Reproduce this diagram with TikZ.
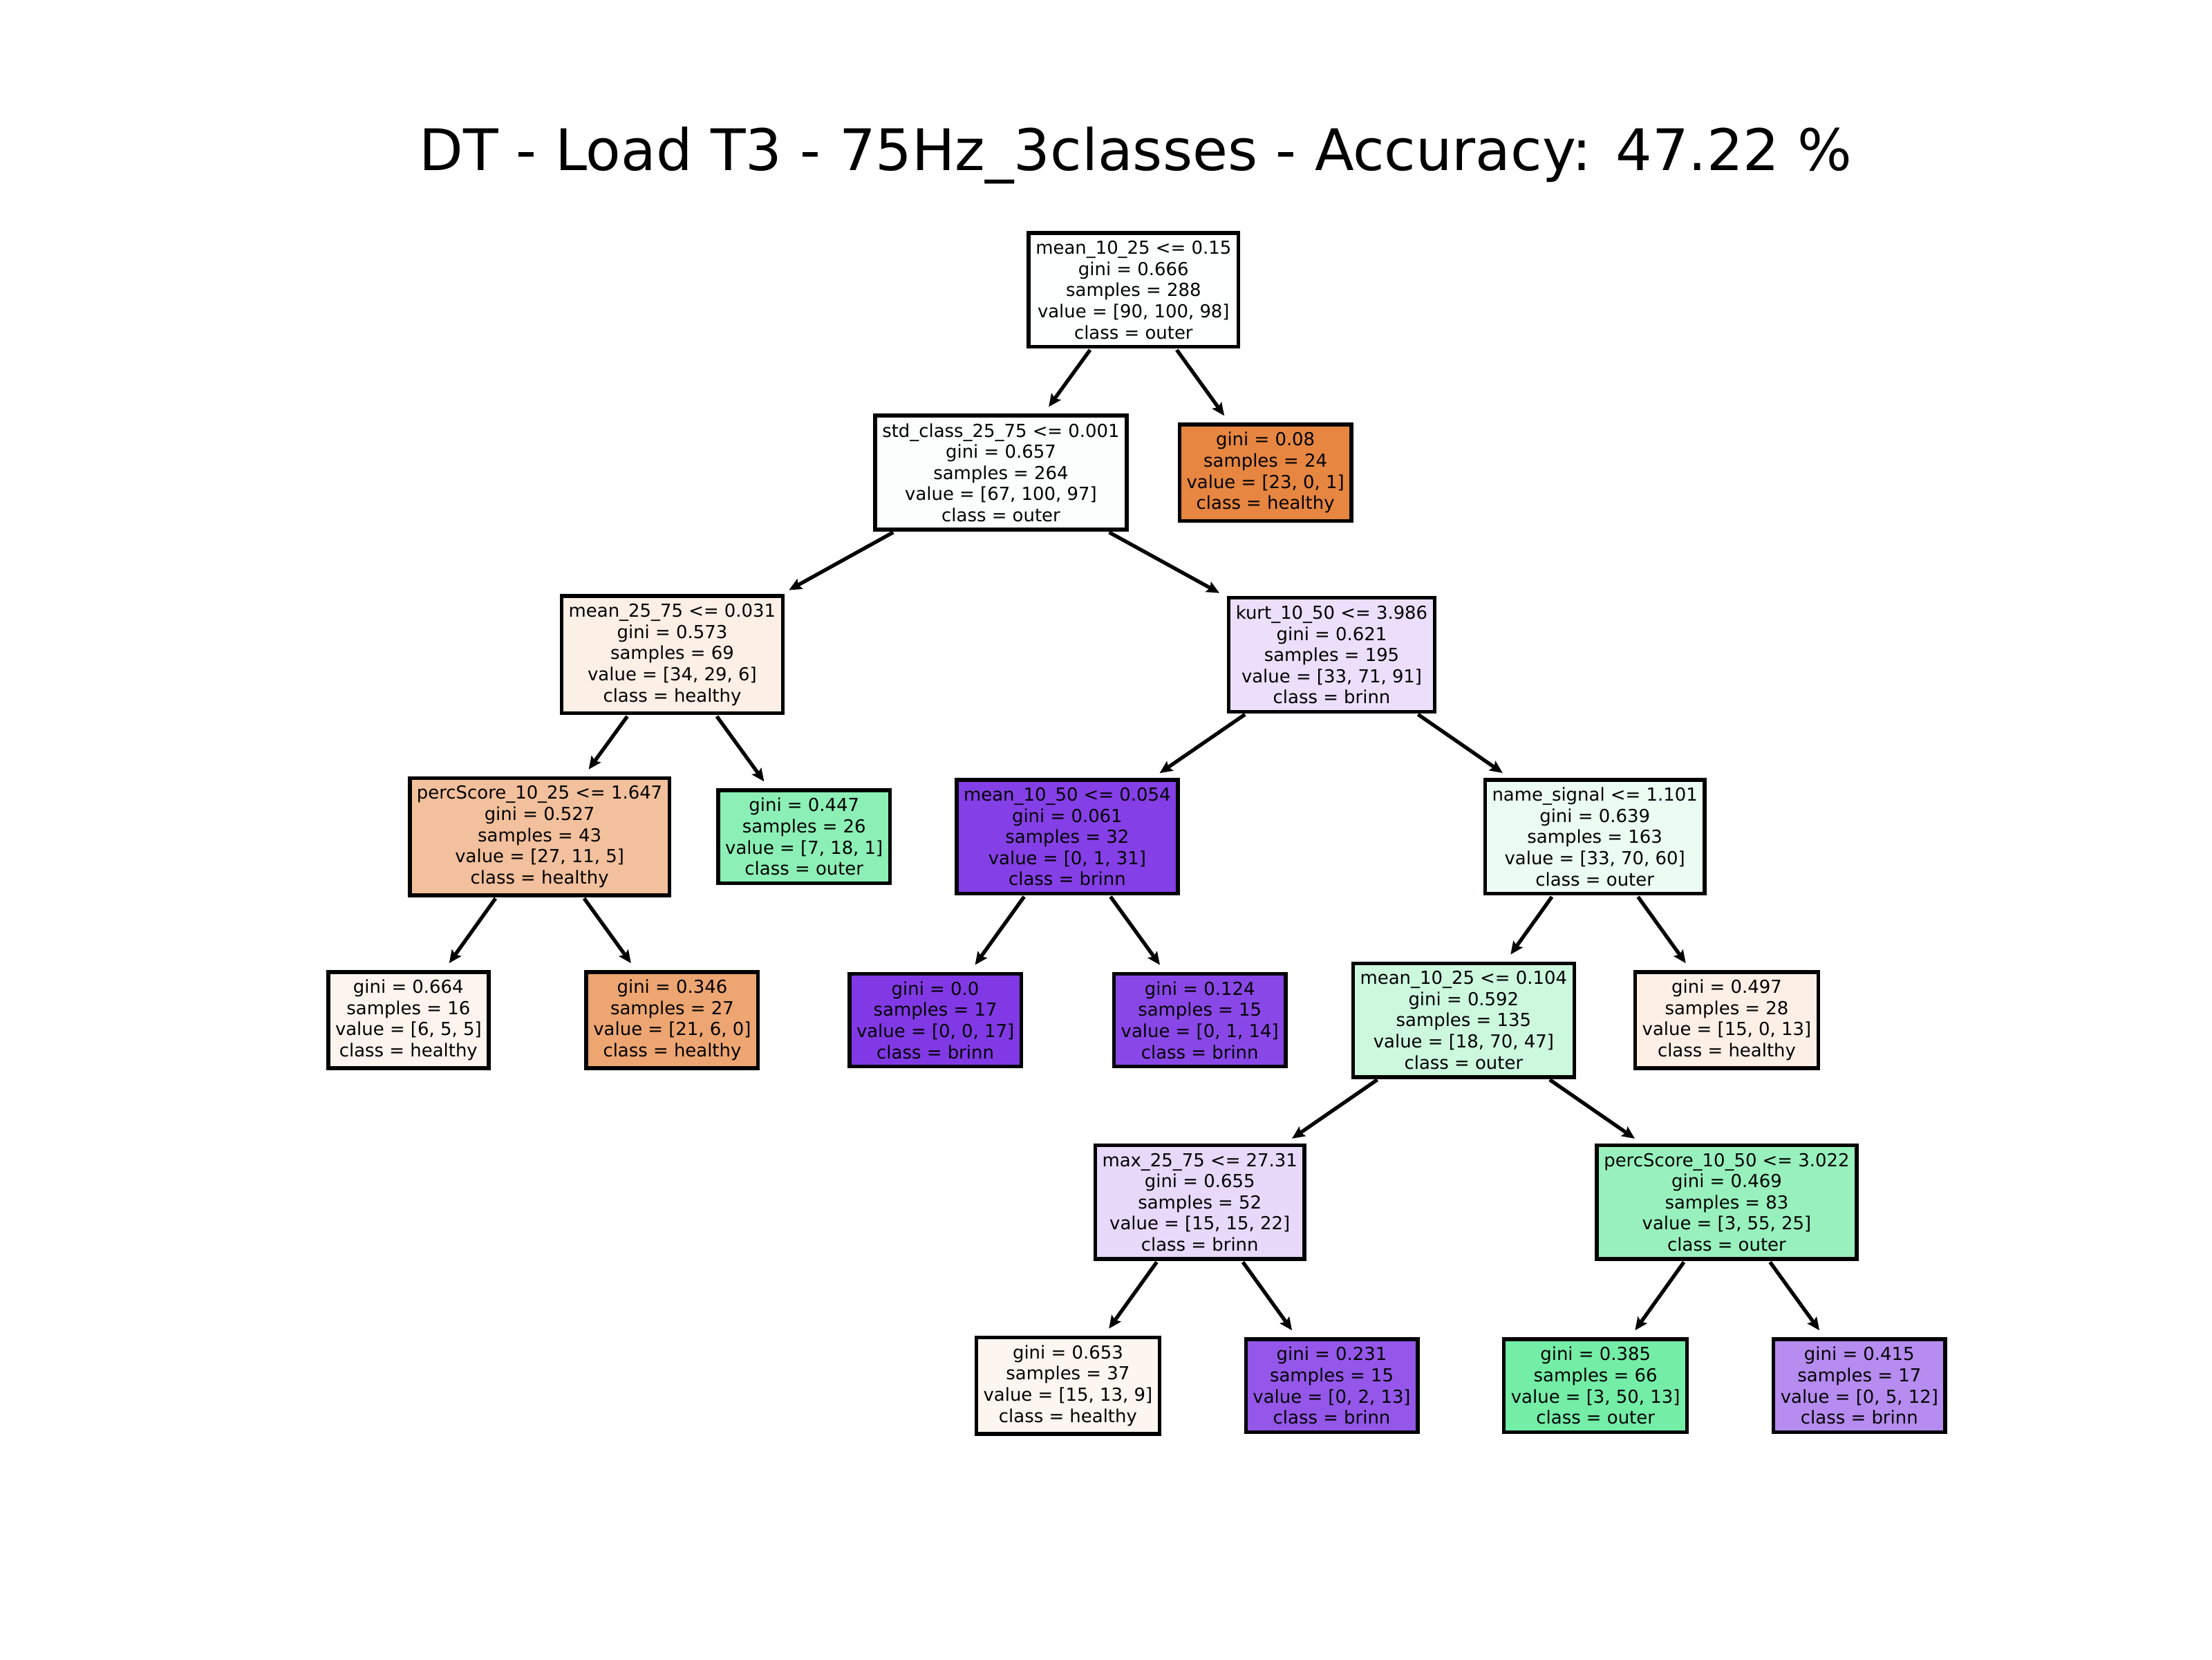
\documentclass[tikz,border=0pt]{standalone}
\usepackage{fontspec}
\setmainfont{DejaVu Sans}
\usetikzlibrary{arrows.meta}
\definecolor{hcol}{RGB}{229,129,57}
\definecolor{ocol}{RGB}{57,229,129}
\definecolor{bcol}{RGB}{129,57,229}
\tikzset{
  tnode/.style={draw=black, line width=2.7pt, inner xsep=5pt, inner ysep=5.5pt, align=center,
    font=\fontsize{12.7}{15}\selectfont},
  edge/.style={line width=2.6pt, -{Stealth[length=9pt,width=8pt,inset=1.5pt]},
    shorten >=6pt, shorten <=1pt}
}
\begin{document}
\begin{tikzpicture}[x=1pt,y=-1pt]
\useasboundingbox (0,0) rectangle (1568,1176);
\node[anchor=base, font=\fontsize{40.6}{48}\selectfont] (title) at (805,121) {DT - Load T3 - 75Hz\_3classes - Accuracy: 47.22 \%};

\node[tnode, fill=ocol!1!white] (n1) at (803.5,205.5) {mean\_10\_25 <= 0.15\\gini = 0.666\\samples = 288\\value = [90, 100, 98]\\class = outer};
\node[tnode, fill=ocol!2!white] (n2) at (709.5,335) {std\_class\_25\_75 <= 0.001\\gini = 0.657\\samples = 264\\value = [67, 100, 97]\\class = outer};
\node[tnode, fill=hcol!96!white] (n3) at (897,335) {gini = 0.08\\samples = 24\\value = [23, 0, 1]\\class = healthy};
\node[tnode, fill=hcol!12.5!white] (n4) at (476.5,464) {mean\_25\_75 <= 0.031\\gini = 0.573\\samples = 69\\value = [34, 29, 6]\\class = healthy};
\node[tnode, fill=bcol!16!white] (n5) at (944,464) {kurt\_10\_50 <= 3.986\\gini = 0.621\\samples = 195\\value = [33, 71, 91]\\class = brinn};
\node[tnode, fill=hcol!50!white] (n6) at (382.5,593) {percScore\_10\_25 <= 1.647\\gini = 0.527\\samples = 43\\value = [27, 11, 5]\\class = healthy};
\node[tnode, fill=ocol!58!white] (n7) at (570,593) {gini = 0.447\\samples = 26\\value = [7, 18, 1]\\class = outer};
\node[tnode, fill=bcol!97!white] (n8) at (756.5,593) {mean\_10\_50 <= 0.054\\gini = 0.061\\samples = 32\\value = [0, 1, 31]\\class = brinn};
\node[tnode, fill=ocol!10!white] (n9) at (1130.5,593) {name\_signal <= 1.101\\gini = 0.639\\samples = 163\\value = [33, 70, 60]\\class = outer};
\node[tnode, fill=hcol!9!white] (n10) at (289.5,723) {gini = 0.664\\samples = 16\\value = [6, 5, 5]\\class = healthy};
\node[tnode, fill=hcol!71!white] (n11) at (476.5,723) {gini = 0.346\\samples = 27\\value = [21, 6, 0]\\class = healthy};
\node[tnode, fill=bcol] (n12) at (663,723) {gini = 0.0\\samples = 17\\value = [0, 0, 17]\\class = brinn};
\node[tnode, fill=bcol!93!white] (n13) at (850.5,723) {gini = 0.124\\samples = 15\\value = [0, 1, 14]\\class = brinn};
\node[tnode, fill=ocol!26!white] (n14) at (1037.5,723) {mean\_10\_25 <= 0.104\\gini = 0.592\\samples = 135\\value = [18, 70, 47]\\class = outer};
\node[tnode, fill=hcol!13!white] (n15) at (1224,723) {gini = 0.497\\samples = 28\\value = [15, 0, 13]\\class = healthy};
\node[tnode, fill=bcol!19!white] (n16) at (850.5,852) {max\_25\_75 <= 27.31\\gini = 0.655\\samples = 52\\value = [15, 15, 22]\\class = brinn};
\node[tnode, fill=ocol!52!white] (n17) at (1224,852) {percScore\_10\_50 <= 3.022\\gini = 0.469\\samples = 83\\value = [3, 55, 25]\\class = outer};
\node[tnode, fill=hcol!8!white] (n18) at (757,982) {gini = 0.653\\samples = 37\\value = [15, 13, 9]\\class = healthy};
\node[tnode, fill=bcol!85!white] (n19) at (944,982) {gini = 0.231\\samples = 15\\value = [0, 2, 13]\\class = brinn};
\node[tnode, fill=ocol!70!white] (n20) at (1131,982) {gini = 0.385\\samples = 66\\value = [3, 50, 13]\\class = outer};
\node[tnode, fill=bcol!58!white] (n21) at (1318,982) {gini = 0.415\\samples = 17\\value = [0, 5, 12]\\class = brinn};

\draw[edge] (n1) -- (n2);
\draw[edge] (n1) -- (n3);
\draw[edge] (n2) -- (n4);
\draw[edge] (n2) -- (n5);
\draw[edge] (n4) -- (n6);
\draw[edge] (n4) -- (n7);
\draw[edge] (n5) -- (n8);
\draw[edge] (n5) -- (n9);
\draw[edge] (n6) -- (n10);
\draw[edge] (n6) -- (n11);
\draw[edge] (n8) -- (n12);
\draw[edge] (n8) -- (n13);
\draw[edge] (n9) -- (n14);
\draw[edge] (n9) -- (n15);
\draw[edge] (n14) -- (n16);
\draw[edge] (n14) -- (n17);
\draw[edge] (n16) -- (n18);
\draw[edge] (n16) -- (n19);
\draw[edge] (n17) -- (n20);
\draw[edge] (n17) -- (n21);
\end{tikzpicture}
\end{document}
